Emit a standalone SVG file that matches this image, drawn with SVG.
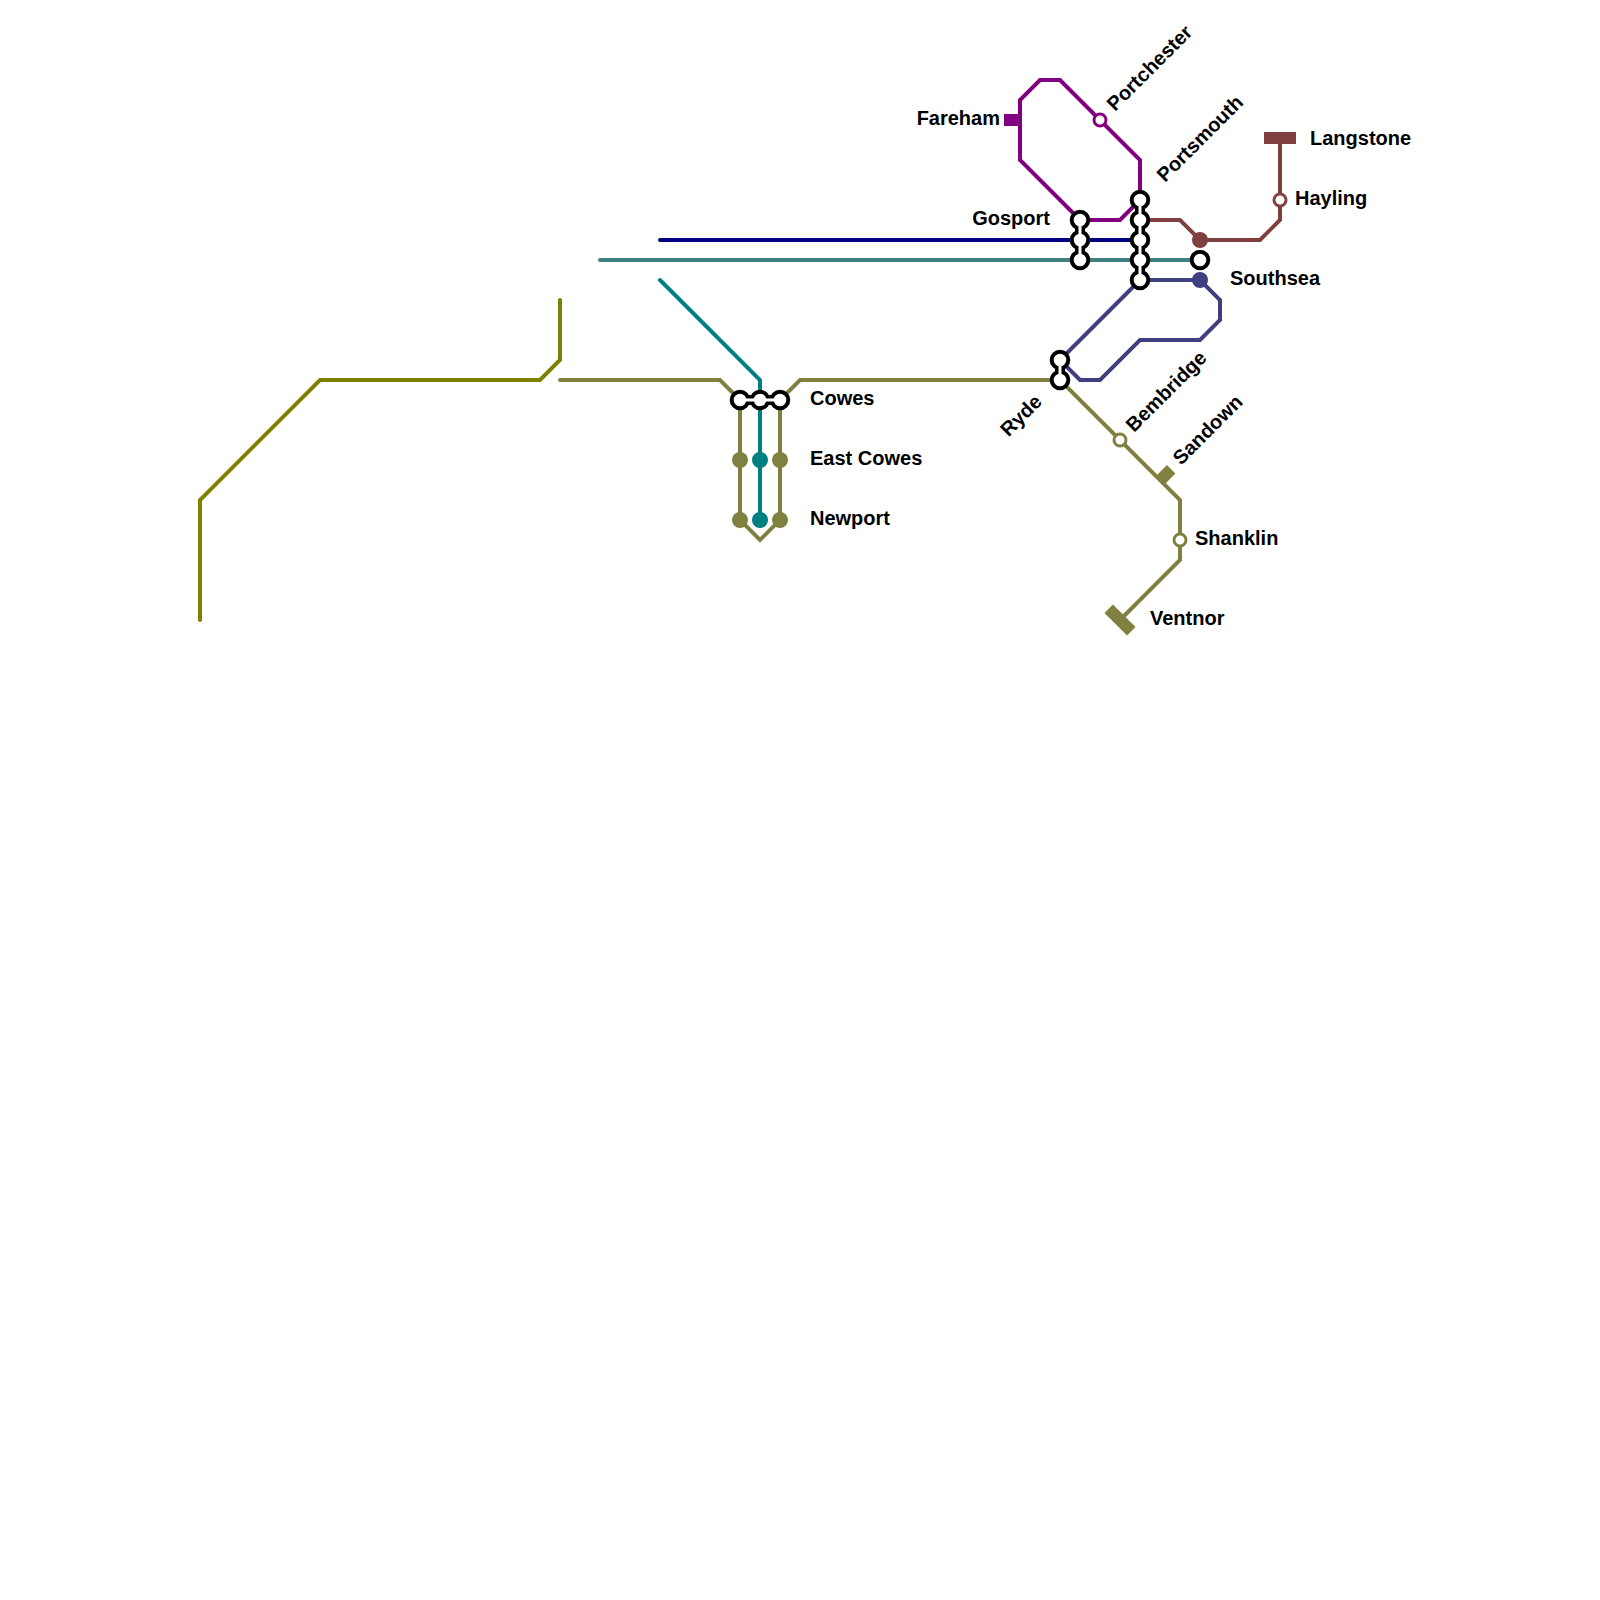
<svg xmlns="http://www.w3.org/2000/svg" width="1600" height="1600" viewBox="0 0 1600 1600">
<style>
.l{fill:none;stroke-width:4;stroke-linejoin:miter;stroke-linecap:round}
text{font-family:"Liberation Sans",Arial,sans-serif;font-weight:bold;font-size:20px;fill:#000}
.ib{stroke:#000;stroke-width:10;fill:none}
.iw{stroke:#fff;stroke-width:3;fill:none}
.ic{fill:#fff;stroke:#000;stroke-width:4}
.ring{fill:#fff;stroke-width:3}
</style>
<rect width="1600" height="1600" fill="#fff"/>
<g id="connectors">
<path class="l" stroke="#808000" d="M200 620V500L320 380H540L560 360V300"/>
<path class="l" stroke="#008080" d="M660 280L760 380V520"/>
<path class="l" stroke="#000080" d="M660 240H1140"/>
<path class="l" stroke="#408080" d="M600 260H1200"/>
<path class="l" stroke="#800080" d="M1140 200V160L1060 80H1040L1020 100V160L1080 220H1120L1140 200"/>
<path class="l" stroke="#804040" d="M1140 220H1180L1200 240H1260L1280 220V140"/>
<path class="l" stroke="#404080" d="M1060 360L1140 280H1200L1220 300V320L1200 340H1140L1100 380H1080L1060 360"/>
<path class="l" stroke="#808040" d="M560 380H720L740 400V520L760 540L780 520V400L800 380H1060L1180 500V560L1120 620"/>
</g>
<g id="fareham"><rect x="1004" y="114" width="16" height="12" fill="#800080"/><text x="1000" y="125" text-anchor="end">Fareham</text></g>
<g id="portchester"><circle class="ring" stroke="#800080" cx="1100" cy="120" r="6"/><text transform="translate(1115 112) rotate(-45)">Portchester</text></g>
<g id="portsmouth"><path class="ib" d="M1140 200V280"/><circle class="ic" cx="1140" cy="200" r="8.300"/><circle class="ic" cx="1140" cy="220" r="8.300"/><circle class="ic" cx="1140" cy="240" r="8.300"/><circle class="ic" cx="1140" cy="260" r="8.300"/><circle class="ic" cx="1140" cy="280" r="8.300"/><path class="iw" d="M1140 200V280"/><text transform="translate(1165 183) rotate(-45)">Portsmouth</text></g>
<g id="gosport"><path class="ib" d="M1080 220V260"/><circle class="ic" cx="1080" cy="220" r="8.300"/><circle class="ic" cx="1080" cy="240" r="8.300"/><circle class="ic" cx="1080" cy="260" r="8.300"/><path class="iw" d="M1080 220V260"/><text x="1050" y="225" text-anchor="end">Gosport</text></g>
<g id="southsea"><circle fill="#804040" cx="1200" cy="240" r="8"/><circle class="ic" cx="1200" cy="260" r="8.300"/><circle fill="#404080" cx="1200" cy="280" r="8"/><text x="1230" y="285">Southsea</text></g>
<g id="hayling"><circle class="ring" stroke="#804040" cx="1280" cy="200" r="6"/><text x="1295" y="205">Hayling</text></g>
<g id="langstone"><rect x="1264" y="132" width="32" height="12" fill="#804040"/><text x="1310" y="145">Langstone</text></g>
<g id="ryde"><path class="ib" d="M1060 360V380"/><circle class="ic" cx="1060" cy="360" r="8.300"/><circle class="ic" cx="1060" cy="380" r="8.300"/><path class="iw" d="M1060 360V380"/><text transform="translate(1043 403) rotate(-45)" text-anchor="end">Ryde</text></g>
<g id="bembridge"><circle class="ring" stroke="#808040" cx="1120" cy="440" r="6"/><text transform="translate(1134 433) rotate(-45)">Bembridge</text></g>
<g id="sandown"><rect x="-8" y="-6" width="16" height="12" fill="#808040" transform="translate(1165.500 475) rotate(-45)"/><text transform="translate(1181 466) rotate(-45)">Sandown</text></g>
<g id="shanklin"><circle class="ring" stroke="#808040" cx="1180" cy="540" r="6"/><text x="1195" y="545">Shanklin</text></g>
<g id="ventnor"><rect x="-16" y="-6" width="32" height="12" fill="#808040" transform="translate(1120 620) rotate(45)"/><text x="1150" y="625">Ventnor</text></g>
<g id="cowes"><path class="ib" d="M740 400H780"/><circle class="ic" cx="740" cy="400" r="8.300"/><circle class="ic" cx="760" cy="400" r="8.300"/><circle class="ic" cx="780" cy="400" r="8.300"/><path class="iw" d="M740 400H780"/><text x="810" y="405">Cowes</text></g>
<g id="east-cowes"><circle fill="#808040" cx="740" cy="460" r="8"/><circle fill="#008080" cx="760" cy="460" r="8"/><circle fill="#808040" cx="780" cy="460" r="8"/><text x="810" y="465">East Cowes</text></g>
<g id="newport"><circle fill="#808040" cx="740" cy="520" r="8"/><circle fill="#008080" cx="760" cy="520" r="8"/><circle fill="#808040" cx="780" cy="520" r="8"/><text x="810" y="525">Newport</text></g>
</svg>
